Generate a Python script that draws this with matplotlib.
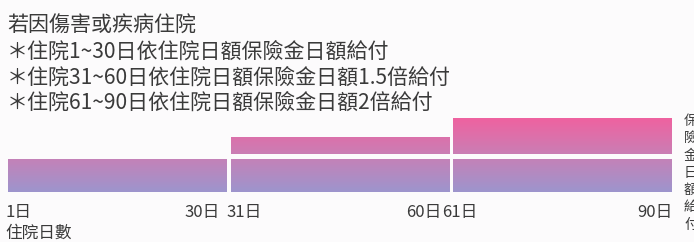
import numpy as np
import matplotlib
matplotlib.use('Agg')
import matplotlib.pyplot as plt
from matplotlib.colors import LinearSegmentedColormap
from matplotlib.patches import Rectangle

plt.rcParams['font.family'] = ['Noto Sans CJK TC', 'DejaVu Sans']

# Data
title_lines = ['若因傷害或疾病住院',
               '＊住院1~30日依住院日額保險金日額給付',
               '＊住院31~60日依住院日額保險金日額1.5倍給付',
               '＊住院61~90日依住院日額保險金日額2倍給付']
seg_start = [0, 30, 60]
seg_end = [30, 60, 90]
multiplier = [1.0, 1.5, 2.0]
day_labels = ['1日', '30日', '31日', '60日', '61日', '90日']
x_label = '住院日數'
y_label = '保險金日額給付'

text_color = '#3a3a3a'
bg = '#fcfbfc'
grad = LinearSegmentedColormap.from_list('g', ['#9d95cd', '#c97fb5', '#ef62a0'])

fig = plt.figure(figsize=(6.94, 2.42), dpi=100, facecolor=bg)
ax = fig.add_axes([0, 0, 1, 1])
ax.set_facecolor(bg)
px_day = 7.417  # pixels per day
px_unit = 37.0  # pixels per multiplier unit
x0 = -6.25 / px_day

gap = 4 / px_day
vgap_lo = 3.5 / px_unit
vgap_hi = 1.0 / px_unit
img = np.linspace(0, 1, 200).reshape(-1, 1)
for s, e, m in zip(seg_start, seg_end, multiplier):
    left = s + gap / 2
    w = (e - s) - gap
    blocks = [(0, 1 - vgap_lo)]
    if m > 1:
        blocks.append((1 + vgap_hi, m))
    for b0, b1 in blocks:
        rect = Rectangle((left, b0), w, b1 - b0, facecolor='none', edgecolor='none')
        ax.add_patch(rect)
        im = ax.imshow(img, cmap=grad, origin='lower', aspect='auto',
                       extent=[seg_start[0], seg_end[-1], 0, max(multiplier)],
                       interpolation='bilinear')
        im.set_clip_path(rect)
ax.set_xlim(x0, x0 + 694 / px_day)
ax.set_ylim(-50 / px_unit, 192 / px_unit)
ax.axis('off')

# header text
for i, line in enumerate(title_lines):
    fig.text(7 / 694, 1 - (26 + i * 25.7) / 242, line, fontsize=15.1, color=text_color,
             ha='left', va='center')

# day labels under bars
label_x = [seg_start[0], seg_end[0], seg_start[1], seg_end[1], seg_start[2], seg_end[2]]
label_ha = ['left', 'right', 'left', 'right', 'left', 'right']
label_off = [-1, -9, -2, -10, -9, -1]
for lab, x, ha, off in zip(day_labels, label_x, label_ha, label_off):
    ax.annotate(lab, (x, 0), xytext=(off, -20), textcoords='offset pixels',
                ha=ha, va='center', fontsize=12, color=text_color)
ax.annotate(x_label, (seg_start[0], 0), xytext=(-1, -41), textcoords='offset pixels',
            ha='left', va='center', fontsize=12, color=text_color)

# vertical label on the right (cut off at the edge, as in the source)
fig.text(684 / 694, 1 - 114 / 242, '\n'.join(y_label), fontsize=10, color=text_color,
         ha='left', va='top', linespacing=1.3)

fig.savefig('out.png', dpi=100, facecolor=bg)
